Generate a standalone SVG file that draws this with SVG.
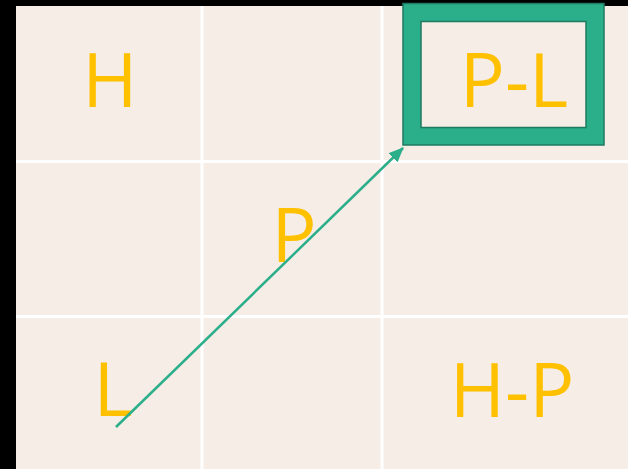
<svg xmlns="http://www.w3.org/2000/svg" width="628" height="469" viewBox="0 0 628 469">
<style>
.lbl{font-family:"Open Sans","Noto Sans",sans-serif;font-size:75px;fill:#FFC000;text-anchor:middle}
.grid{stroke:#FFFFFF;stroke-width:3}
</style>
<defs>
<marker id="ah" markerWidth="15" markerHeight="13" refX="14" refY="6.5" orient="auto" markerUnits="userSpaceOnUse" viewBox="0 0 15 13">
<path d="M0,0 L15,6.5 L0,13 z" fill="#2BAE8A"/>
</marker>
</defs>
<rect x="0" y="0" width="628" height="469" fill="#000"/>
<rect x="16" y="6" width="612" height="463" fill="#F5EDE6"/>
<g id="grid">
<line class="grid" x1="202" y1="6" x2="202" y2="469"/>
<line class="grid" x1="382" y1="6" x2="382" y2="469"/>
<line class="grid" x1="16" y1="161.5" x2="628" y2="161.5"/>
<line class="grid" x1="16" y1="316.5" x2="628" y2="316.5"/>
</g>
<g id="PL">
<rect x="403" y="3.5" width="201" height="141.5" fill="#2BAE8A" stroke="#1E7A60" stroke-width="1.5"/>
<rect x="421" y="21.5" width="165" height="106" fill="#F5EDE6" stroke="#1E7A60" stroke-width="1.5"/>
<text class="lbl" x="514" y="107">P-L</text>
</g>
<g id="H"><text class="lbl" x="110" y="107">H</text></g>
<g id="P"><text class="lbl" x="294" y="262">P</text></g>
<g id="L"><text class="lbl" x="113" y="416">L</text></g>
<g id="HP"><text class="lbl" x="512" y="417">H-P</text></g>
<g id="connectors">
<line x1="116" y1="427" x2="403" y2="148" stroke="#2BAE8A" stroke-width="2.5" marker-end="url(#ah)"/>
</g>
</svg>
